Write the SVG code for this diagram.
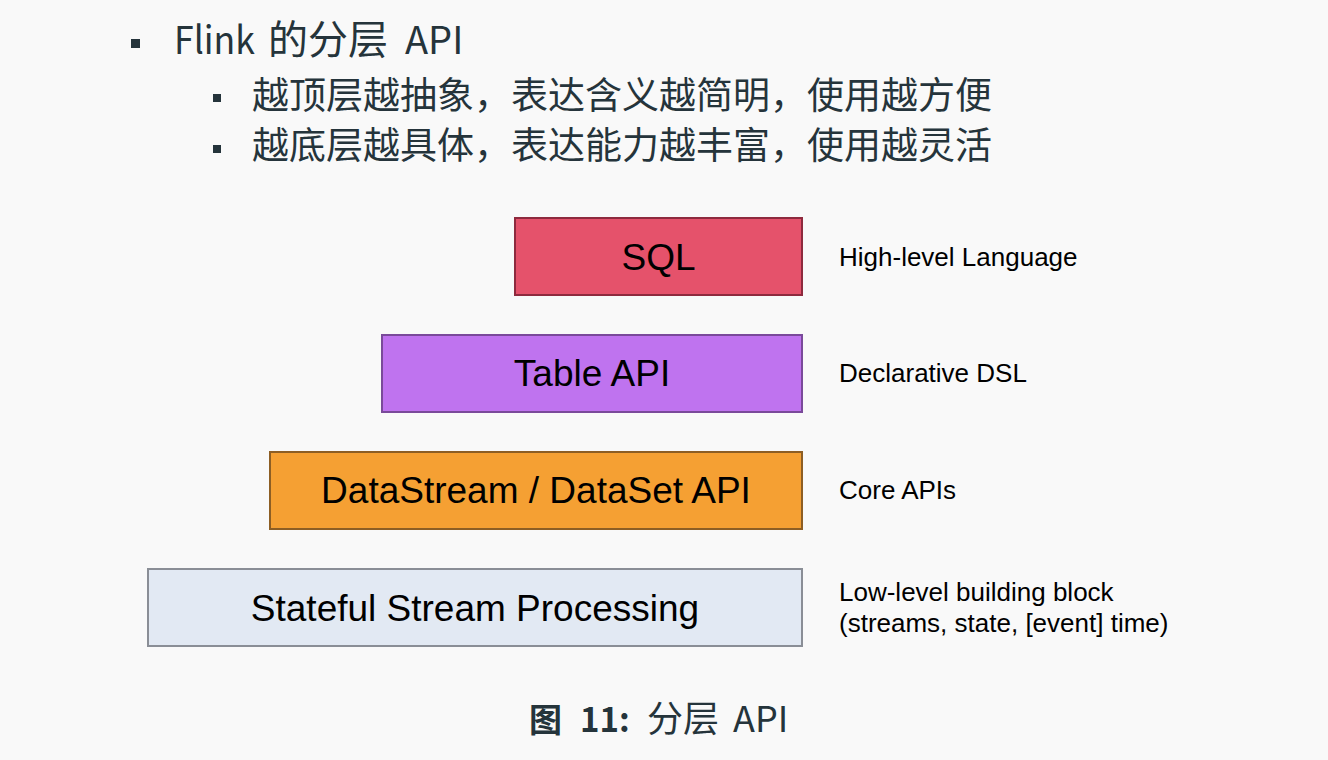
<svg xmlns="http://www.w3.org/2000/svg" width="1328" height="760" viewBox="0 0 1328 760">
<style>
.cjk{font-family:"Noto Sans CJK SC","Noto Sans",sans-serif;fill:#25343b}
.box{stroke-width:2}
.bt{font-family:"Liberation Sans",Arial,sans-serif;font-size:37px;fill:#000;text-anchor:middle}
.lbl{font-family:"Liberation Sans",Arial,sans-serif;font-size:26px;fill:#000}
.bul{fill:#25343b}
</style>
<rect width="1328" height="760" fill="#f9f9f9"/>
<g id="title">
<rect class="bul" x="131" y="39" width="9" height="9"/>
<text class="cjk" y="54" font-size="38"><tspan x="174" textLength="81" lengthAdjust="spacingAndGlyphs">Flink</tspan><tspan x="268" font-size="40">的分层</tspan><tspan x="405">API</tspan></text>
<rect class="bul" x="213" y="94" width="8" height="8"/>
<text class="cjk" x="252" y="109" font-size="37">越顶层越抽象，表达含义越简明，使用越方便</text>
<rect class="bul" x="213" y="145" width="8" height="8"/>
<text class="cjk" x="252" y="159" font-size="37">越底层越具体，表达能力越丰富，使用越灵活</text>
</g>
<g id="sql">
<rect class="box" x="515" y="218" width="287" height="77" fill="#e5526b" stroke="#8e2a3e"/>
<text class="bt" x="658.5" y="270">SQL</text>
</g>
<g id="table">
<rect class="box" x="382" y="335" width="420" height="77" fill="#bf73ef" stroke="#7a4a9a"/>
<text class="bt" x="592" y="386">Table API</text>
</g>
<g id="datastream">
<rect class="box" x="270" y="452" width="532" height="77" fill="#f5a033" stroke="#8d5e24"/>
<text class="bt" x="536" y="503">DataStream / DataSet API</text>
</g>
<g id="stateful">
<rect class="box" x="148" y="569" width="654" height="77" fill="#e2e9f3" stroke="#8a8e96"/>
<text class="bt" x="475" y="621">Stateful Stream Processing</text>
</g>
<g id="labels">
<text class="lbl" x="839" y="266">High-level Language</text>
<text class="lbl" x="839" y="382">Declarative DSL</text>
<text class="lbl" x="839" y="499">Core APIs</text>
<text class="lbl" x="839" y="601">Low-level building block</text>
<text class="lbl" x="839" y="632">(streams, state, [event] time)</text>
</g>
<g id="connectors"></g>
<g id="caption">
<text class="cjk" y="732" font-size="36"><tspan x="529" font-weight="bold" font-size="33">图</tspan><tspan x="580" font-weight="bold" font-size="33">11:</tspan><tspan x="647">分层</tspan><tspan x="733">API</tspan></text>
</g>
</svg>
